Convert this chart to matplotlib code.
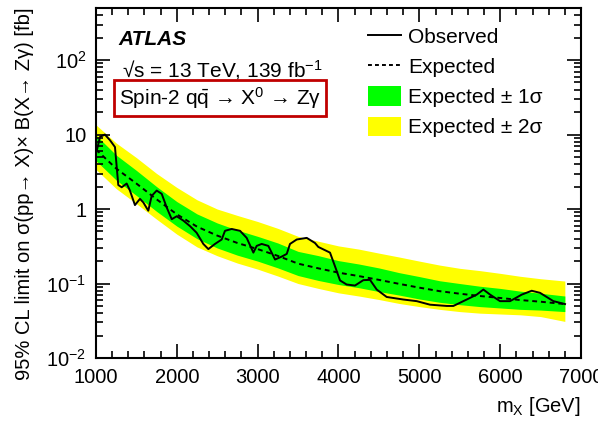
import numpy as np
import matplotlib
matplotlib.use("Agg")
import matplotlib.pyplot as plt
from matplotlib.ticker import FixedLocator, FixedFormatter, MultipleLocator, LogLocator, NullFormatter
from matplotlib.lines import Line2D
from matplotlib.patches import Patch

plt.rcParams['font.family'] = ['Liberation Sans', 'DejaVu Sans']
plt.rcParams['mathtext.fontset'] = 'custom'
plt.rcParams['mathtext.rm'] = 'Liberation Sans'
plt.rcParams['mathtext.it'] = 'Liberation Sans:italic'
plt.rcParams['mathtext.bf'] = 'Liberation Sans:bold'

# expected limit and bands [fb] vs m_X [GeV]
mass = [1000, 1250, 1500, 1750, 2000, 2250, 2500, 2750, 3000, 3250, 3500, 3750,
        4000, 4250, 4500, 4750, 5000, 5250, 5500, 5750, 6000, 6250, 6500, 6800]
expected = [6.3, 3.5, 2.2, 1.35, 0.85, 0.58, 0.44, 0.35, 0.29, 0.235, 0.185, 0.16,
            0.14, 0.126, 0.112, 0.099, 0.088, 0.079, 0.073, 0.068, 0.064, 0.060, 0.057, 0.053]
band_p2 = [13.5, 7.7, 4.9, 3.0, 1.95, 1.33, 1.0, 0.82, 0.68, 0.55, 0.43, 0.37,
           0.32, 0.29, 0.256, 0.227, 0.20, 0.177, 0.16, 0.149, 0.137, 0.125, 0.116, 0.108]
band_p1 = [9.8, 5.3, 3.3, 2.0, 1.26, 0.86, 0.65, 0.52, 0.43, 0.35, 0.27, 0.237,
           0.203, 0.183, 0.162, 0.14, 0.124, 0.109, 0.10, 0.092, 0.086, 0.079, 0.074, 0.068]
band_m1 = [4.46, 2.45, 1.52, 0.93, 0.59, 0.40, 0.30, 0.24, 0.20, 0.162, 0.128, 0.11,
           0.097, 0.088, 0.078, 0.070, 0.062, 0.056, 0.052, 0.049, 0.047, 0.045, 0.044, 0.042]
band_m2 = [3.4, 1.88, 1.18, 0.73, 0.46, 0.31, 0.236, 0.188, 0.156, 0.126, 0.10, 0.086,
           0.075, 0.068, 0.061, 0.054, 0.049, 0.045, 0.042, 0.040, 0.039, 0.038, 0.036, 0.031]

# observed limit
obs_mass = [1000, 1050, 1110, 1173, 1235, 1276, 1318, 1380, 1420, 1482, 1544, 1585,
            1647, 1689, 1751, 1813, 1875, 1937, 1999, 2080, 2163, 2245, 2328, 2390,
            2472, 2555, 2596, 2679, 2782, 2864, 2947, 2988, 3050, 3132, 3215, 3298,
            3360, 3400, 3483, 3607, 3709, 3750, 3895, 3957, 4019, 4101, 4204, 4307,
            4390, 4473, 4596, 4802, 4968, 5132, 5339, 5421, 5586, 5710, 5792, 5875,
            5998, 6122, 6267, 6390, 6493, 6658, 6802]
observed = [5.5, 9.3, 10.0, 8.4, 6.8, 2.1, 1.96, 2.2, 1.77, 1.13, 1.37, 1.23,
            0.95, 1.5, 1.77, 1.6, 1.05, 0.73, 0.80, 0.70, 0.59, 0.48, 0.34, 0.29,
            0.34, 0.39, 0.51, 0.54, 0.51, 0.41, 0.26, 0.32, 0.34, 0.32, 0.21, 0.23,
            0.25, 0.34, 0.39, 0.41, 0.35, 0.31, 0.26, 0.17, 0.11, 0.097, 0.094, 0.111,
            0.112, 0.083, 0.066, 0.061, 0.058, 0.052, 0.050, 0.050, 0.061, 0.071, 0.083, 0.071,
            0.058, 0.058, 0.071, 0.080, 0.075, 0.058, 0.053]

yticks = [1e-2, 1e-1, 1, 10, 1e2]
ytick_labels = [r'$10^{-2}$', r'$10^{-1}$', '1', '10', r'$10^{2}$']
xticks = [1000, 2000, 3000, 4000, 5000, 6000, 7000]

fig = plt.figure(figsize=(5.98, 4.21), dpi=100)
ax = fig.add_axes([0.1605, 0.1496, 0.8111, 0.8314])

ax.fill_between(mass, band_m2, band_p2, color='#ffff00', lw=0)
ax.fill_between(mass, band_m1, band_p1, color='#00ff00', lw=0)
ax.plot(mass, expected, color='black', lw=1.4, ls=(0, (2.5, 2.0)))
ax.plot(obs_mass, observed, color='black', lw=1.4)

ax.set_yscale('log')
ax.set_xlim(1000, 7000)
ax.set_ylim(1e-2, 500)

ax.xaxis.set_major_locator(FixedLocator(xticks))
ax.xaxis.set_minor_locator(MultipleLocator(200))
ax.yaxis.set_major_locator(FixedLocator(yticks))
ax.yaxis.set_major_formatter(FixedFormatter(ytick_labels))
ax.yaxis.set_minor_locator(LogLocator(base=10, subs=np.arange(2, 10)))
ax.yaxis.set_minor_formatter(NullFormatter())

ax.tick_params(which='both', direction='in', top=True, right=True, width=1.2)
ax.tick_params(which='major', length=10, labelsize=14.5, pad=7)
ax.tick_params(which='minor', length=5)
for s in ax.spines.values():
    s.set_linewidth(1.5)

ax.set_ylabel('95% CL limit on σ(pp→ X)× B(X→ Zγ) [fb]', fontsize=14.5, loc='top')
ax.yaxis.set_label_coords(-0.128, 1.0)
ax.set_xlabel(r'm$_{\mathrm{X}}$ [GeV]', fontsize=14.5, loc='right')
ax.xaxis.set_label_coords(1.0, -0.105)

ax.text(0.047, 0.909, 'ATLAS', transform=ax.transAxes, fontsize=15,
        fontweight='bold', fontstyle='italic', va='center')
ax.text(0.053, 0.823, r'√s = 13 TeV, 139 fb$^{-1}$', transform=ax.transAxes,
        fontsize=15, va='center')
ax.text(0.047, 0.743, r'Spin-2 q$\bar{\mathrm{q}}$ → X$^{0}$ → Zγ',
        transform=ax.transAxes, fontsize=15, va='center',
        bbox=dict(boxstyle='square,pad=0.25', fc='none', ec='#c00000', lw=2))

handles = [Line2D([], [], color='black', lw=1.4),
           Line2D([], [], color='black', lw=1.4, ls=(0, (2.0, 1.6))),
           Patch(color='#00ff00', lw=0),
           Patch(color='#ffff00', lw=0)]
labels = ['Observed', 'Expected', 'Expected ± 1σ', 'Expected ± 2σ']
ax.legend(handles, labels, loc='upper left', bbox_to_anchor=(0.56, 0.948), frameon=False,
          fontsize=15, handlelength=1.6, handleheight=1.05, handletextpad=0.35,
          labelspacing=0.45, borderpad=0, borderaxespad=0)

fig.savefig('out.png', dpi=100)
